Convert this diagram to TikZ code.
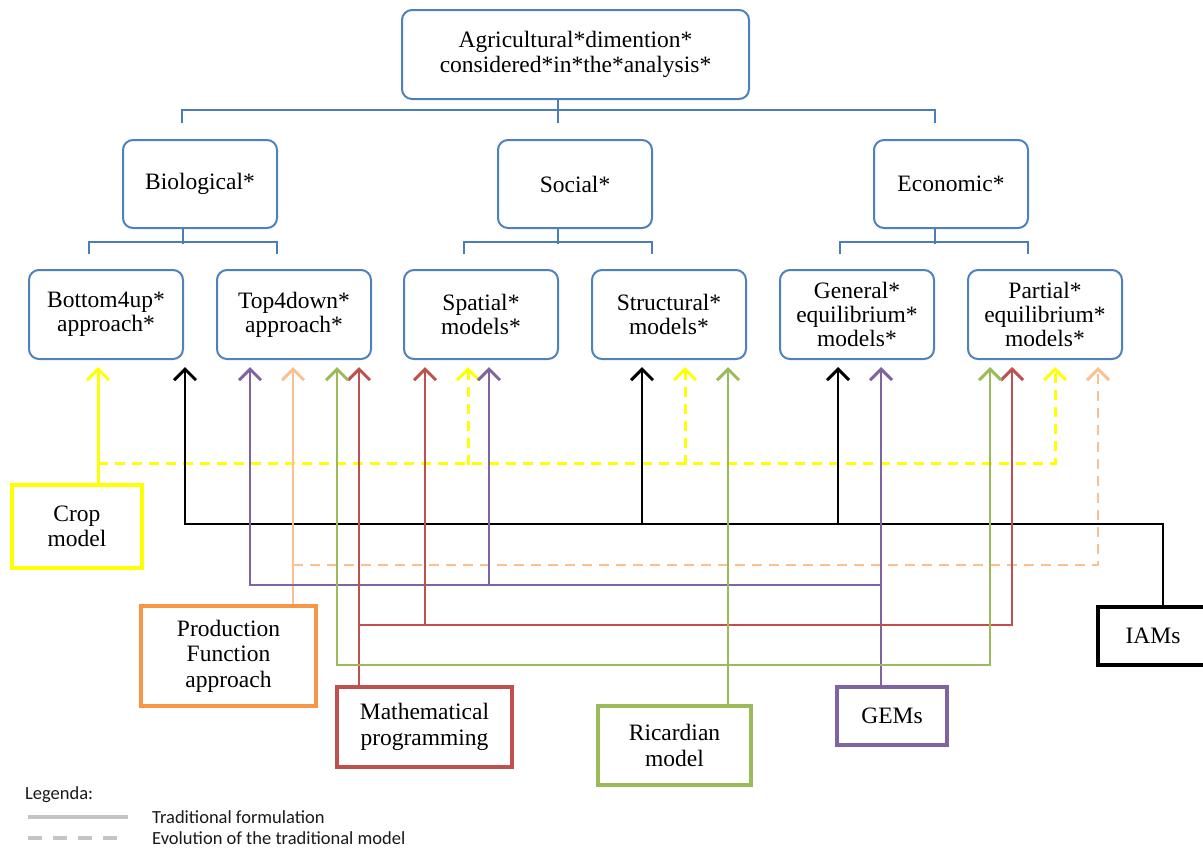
\documentclass[tikz,border=0pt]{standalone}
\usepackage{fontspec}
\setmainfont{Liberation Serif}
\newfontfamily\legfont{Carlito}
\usetikzlibrary{arrows.meta}
\definecolor{bblue}{HTML}{4F81BD}
\definecolor{hblue}{HTML}{4A7EBB}
\definecolor{cyel}{HTML}{FFFF00}
\definecolor{cpur}{HTML}{8064A2}
\definecolor{cpea}{HTML}{FAC090}
\definecolor{corg}{HTML}{F79646}
\definecolor{cgrn}{HTML}{9BBB59}
\definecolor{cred}{HTML}{C0504D}
\definecolor{lgray}{HTML}{C4C4C4}
\definecolor{legtext}{HTML}{1A1A1A}
\tikzset{
  Barbtip/.tip={Straight Barb[length=11pt,width=22pt,line width=3pt]},
  hier/.style={draw=hblue, line width=2.4pt},
  rbox/.style={draw=bblue, line width=2pt, rounded corners=10pt, align=center,
    minimum height=89pt, minimum width=154pt, inner sep=0pt,
    font=\rmfamily\fontsize{23.5}{24}\selectfont},
  sbox/.style={line width=4pt, align=center, fill=white, inner sep=0pt,
    font=\rmfamily\fontsize{23.5}{25.5}\selectfont},
  con/.style={line width=2pt, -Barbtip},
  con2/.style={line width=2pt, Barbtip-Barbtip},
  ydash/.style={dash pattern=on 10pt off 7pt},
  odash/.style={dash pattern=on 10pt off 7pt},
  legtxt/.style={anchor=west, inner sep=0pt, text=legtext, font=\legfont\fontsize{18.5}{20}\selectfont},
}
\begin{document}
\begin{tikzpicture}[x=1pt,y=-1pt]
\useasboundingbox (0,0) rectangle (1203,847);
\fill[white] (0,0) rectangle (1203,847);

% hierarchy boxes
\node[rbox, minimum width=347pt, font=\rmfamily\fontsize{23.5}{24.5}\selectfont] (top) at (575.5,54.5) {Agricultural*dimention*\\considered*in*the*analysis*};
\node[rbox, minimum height=88pt] (bio) at (200,184) {Biological*};
\node[rbox, minimum height=88pt] (soc) at (575,184) {Social*};
\node[rbox, minimum height=88pt] (eco) at (951,184) {Economic*};
\node[rbox] (bu) at (106,314.5) {Bottom4up*\\approach*};
\node[rbox] (td) at (294,314.5) {Top4down*\\approach*};
\node[rbox] (sp) at (481,314.5) {Spatial*\\models*};
\node[rbox] (st) at (669,314.5) {Structural*\\models*};
\node[rbox] (ge) at (857,314.5) {General*\\equilibrium*\\models*};
\node[rbox] (pe) at (1045,314.5) {Partial*\\equilibrium*\\models*};

% hierarchy connectors
\draw[hier] ([xshift=-17.5pt]top.south) -- (558,111);
\draw[hier] ([xshift=-18pt,yshift=16pt]bio.north) -- ++(0,-13) -| ([xshift=-16pt,yshift=16pt]eco.north);
\draw[hier] (558,111) -- ([xshift=-17pt,yshift=16pt]soc.north);
\draw[hier] ([xshift=-17pt]bio.south) -- ++(0,15);
\draw[hier] ([xshift=-17pt]soc.south) -- ++(0,15);
\draw[hier] ([xshift=-16pt]eco.south) -- ++(0,15);
\draw[hier] ([xshift=-17pt,yshift=15pt]bu.north) -- ++(0,-12) -| ([xshift=-17pt,yshift=15pt]td.north);
\draw[hier] ([xshift=-17pt,yshift=15pt]sp.north) -- ++(0,-12) -| ([xshift=-17pt,yshift=15pt]st.north);
\draw[hier] ([xshift=-17pt,yshift=15pt]ge.north) -- ++(0,-12) -| ([xshift=-17pt,yshift=15pt]pe.north);

% arrow tip coordinates
\coordinate (bu-y) at (98,367);
\coordinate (bu-k) at (185,367);
\coordinate (td-p) at (250,367);
\coordinate (td-o) at (293,367);
\coordinate (td-g) at (337,367);
\coordinate (td-r) at (359,367);
\coordinate (sp-r) at (425,367);
\coordinate (sp-y) at (468,367);
\coordinate (sp-p) at (489,367);
\coordinate (st-k) at (642,367);
\coordinate (st-y) at (685,367);
\coordinate (st-g) at (728,367);
\coordinate (ge-k) at (838,367);
\coordinate (ge-p) at (881,367);
\coordinate (pe-g) at (990,367);
\coordinate (pe-r) at (1012,367);
\coordinate (pe-y) at (1055,367);
\coordinate (pe-o) at (1098,367);

% bus junctions
\coordinate (ybus1) at (468,465);
\coordinate (ybus2) at (685,465);
\coordinate (kbus) at (1163,524);
\coordinate (kbus1) at (642,524);
\coordinate (kbus2) at (838,524);
\coordinate (obus) at (293,565);
\coordinate (pbus) at (881,585);
\coordinate (pbus1) at (489,585);
\coordinate (rbus) at (359,625);
\coordinate (rbus1) at (425,625);
\coordinate (gbus) at (990,665);

% source boxes
\node[sbox, draw=cyel, minimum width=130pt, minimum height=83pt] (crop) at (77,526.5) {Crop\\model};
\node[sbox, draw=corg, minimum width=175pt, minimum height=100pt] (prod) at (228.5,656) {Production\\Function\\approach};
\node[sbox, draw=cred, minimum width=175pt, minimum height=80pt] (math) at (424.5,727) {Mathematical\\programming};
\node[sbox, draw=cgrn, minimum width=153pt, minimum height=79pt] (ric) at (674.5,745.5) {Ricardian\\model};
\node[sbox, draw=cpur, minimum width=110pt, minimum height=58pt] (gems) at (892,716) {GEMs};
\node[sbox, draw=black, minimum width=110pt, minimum height=58pt] (iams) at (1153,636) {IAMs};

% yellow (Crop model)
\draw[con, cyel, line width=3pt, ydash] ([xshift=21pt,yshift=20pt]crop.north) -| (pe-y);
\draw[con, cyel, line width=3pt, ydash] (ybus1) -- (sp-y);
\draw[con, cyel, line width=3pt, ydash] (ybus2) -- (st-y);
\draw[con, cyel, line width=3pt] ([xshift=21pt]crop.north) -- (bu-y);

% black (IAMs)
\draw[con, black] ([xshift=10pt]iams.north) -- (kbus) -| (bu-k);
\draw[con, black] (kbus1) -- (st-k);
\draw[con, black] (kbus2) -- (ge-k);

% peach (Production Function)
\draw[con, cpea, odash] (obus) -| (pe-o);
\draw[con, cpea] ([xshift=64.5pt]prod.north) -- (td-o);

% purple (GEMs)
\draw[con, cpur] (pbus) -| (td-p);
\draw[con, cpur] (pbus1) -- (sp-p);
\draw[con, cpur] ([xshift=-11pt]gems.north) -- (ge-p);

% red (Mathematical programming)
\draw[con, cred] (rbus) -| (pe-r);
\draw[con, cred] (rbus1) -- (sp-r);
\draw[con, cred] ([xshift=-65.5pt]math.north) -- (td-r);

% green (Ricardian)
\draw[con2, cgrn] (td-g) |- (gbus) -- (pe-g);
\draw[con, cgrn] ([xshift=53.5pt]ric.north) -- (st-g);

% legend
\node[legtxt] (leg) at (25,795) {Legenda:};
\coordinate (la1) at (28,817);
\coordinate (lb1) at (128,817);
\coordinate (la2) at (28,838);
\coordinate (lb2) at (128,838);
\draw[lgray, line width=3.5pt] (la1) -- (lb1);
\draw[lgray, line width=3.5pt, dash pattern=on 14pt off 11pt] (la2) -- (lb2);
\node[legtxt] (l1) at (152,817) {Traditional formulation};
\node[legtxt] (l2) at (152,838) {Evolution of the traditional model};
\end{tikzpicture}
\end{document}
